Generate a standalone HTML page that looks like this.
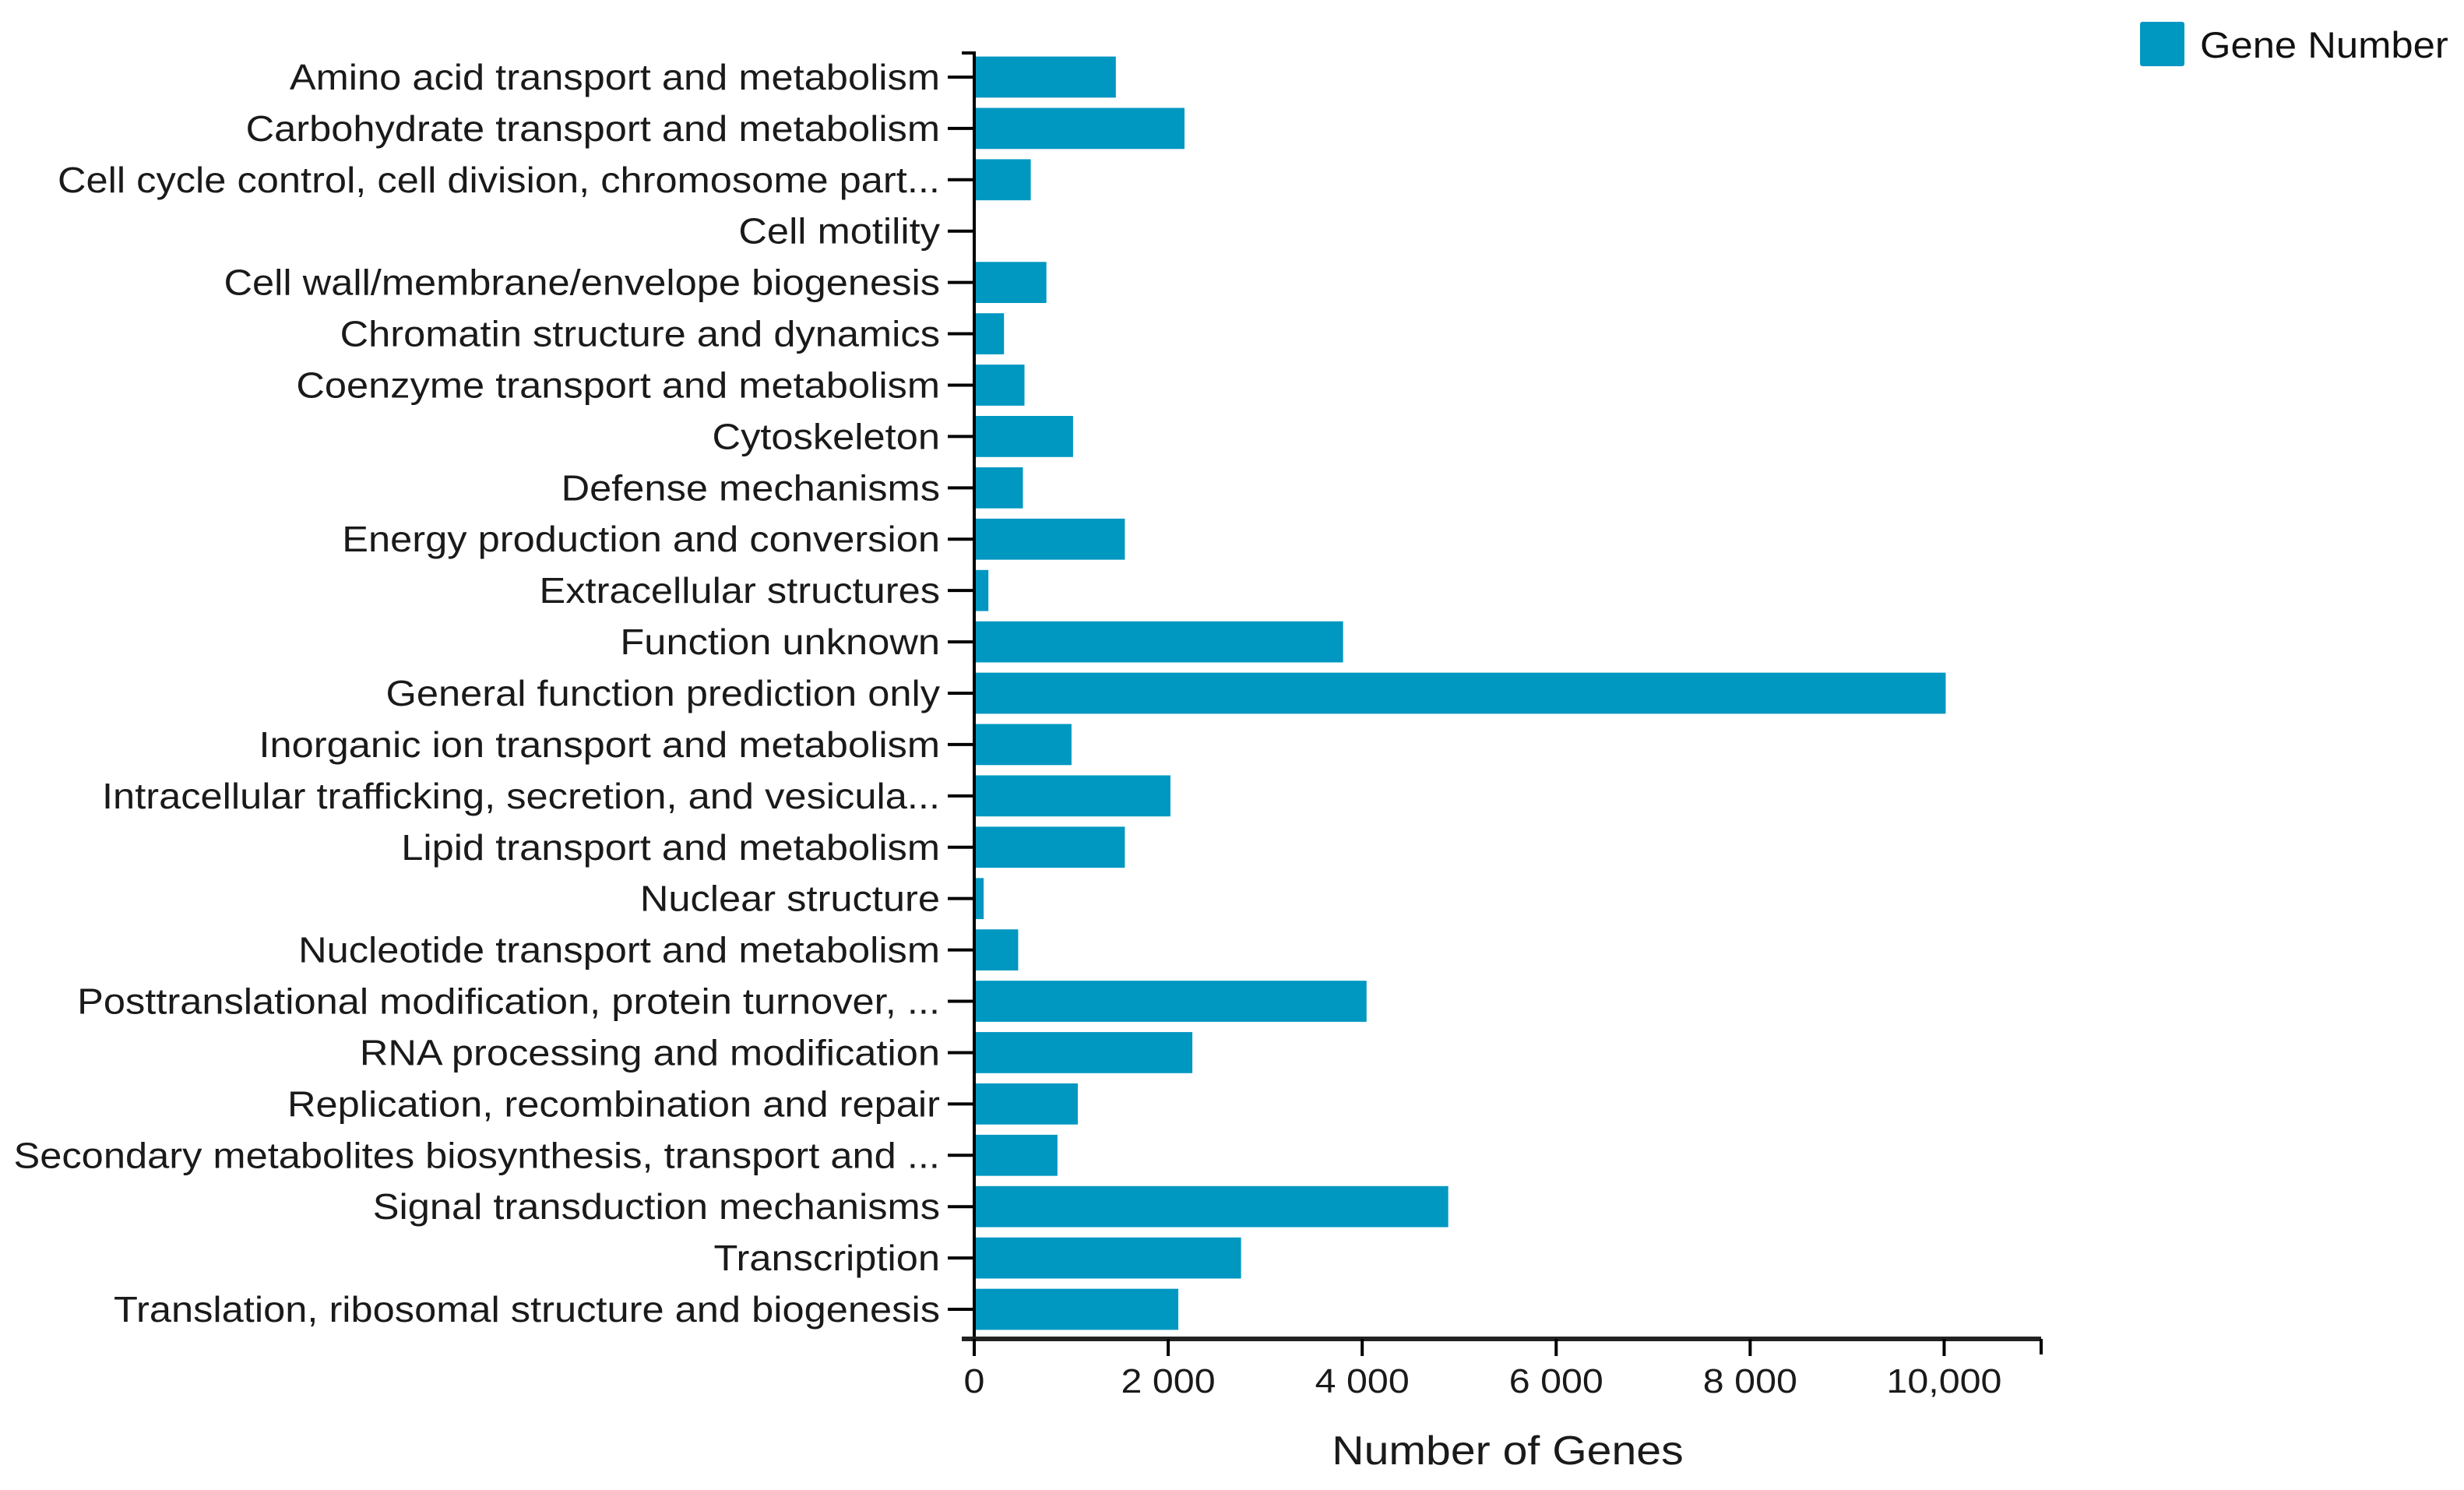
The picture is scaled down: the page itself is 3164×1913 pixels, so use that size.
<!DOCTYPE html>
<html><head><meta charset="utf-8"><style>
html,body{margin:0;padding:0;background:#fff;}
svg{display:block;font-family:"Liberation Sans",sans-serif;}
</style></head><body>
<svg id="chart" width="3164" height="1913" xmlns="http://www.w3.org/2000/svg"></svg>
<script>
const categories = ["Amino acid transport and metabolism","Carbohydrate transport and metabolism","Cell cycle control, cell division, chromosome part...","Cell motility","Cell wall/membrane/envelope biogenesis","Chromatin structure and dynamics","Coenzyme transport and metabolism","Cytoskeleton","Defense mechanisms","Energy production and conversion","Extracellular structures","Function unknown","General function prediction only","Inorganic ion transport and metabolism","Intracellular trafficking, secretion, and vesicula...","Lipid transport and metabolism","Nuclear structure","Nucleotide transport and metabolism","Posttranslational modification, protein turnover, ...","RNA processing and modification","Replication, recombination and repair","Secondary metabolites biosynthesis, transport and ...","Signal transduction mechanisms","Transcription","Translation, ribosomal structure and biogenesis"];
const geneCounts = [1460,2168,583,5,744,307,518,1019,502,1553,146,3803,10016,1003,2023,1553,97,453,4045,2249,1068,858,4887,2751,2104];
const xTicks = [0,2000,4000,6000,8000,10000];
const xTickLabels = ["0","2 000","4 000","6 000","8 000","10,000"];

const NS="http://www.w3.org/2000/svg";
const svg=document.getElementById('chart');
const X0=1251, X1=2621, DMAX=11000, YTOP=66, YBOT=1714, AXY=1719, SX=1.1;
const x=v=>X0+(v/DMAX)*(X1-X0);
const step=(YBOT-YTOP)/categories.length;
const yc=i=>YTOP+step*(i+0.5);
function mk(tag,attrs,parent){const e=document.createElementNS(NS,tag);for(const k in attrs)e.setAttribute(k,attrs[k]);(parent||svg).appendChild(e);return e;}
const COLOR="#0097c1";

categories.forEach((c,i)=>{
  const bh=step*0.8;
  const r=mk('rect',{x:X0,y:yc(i)-bh/2,width:Math.max(0,x(geneCounts[i])-X0),height:bh,fill:COLOR});
  
  
});

const ya=mk('path',{d:`M1235,${YTOP+2} H${X0} V${AXY}`,stroke:"#000","stroke-width":4,fill:"none"});


categories.forEach((c,i)=>{
  const t=mk('line',{x1:1217,x2:X0,y1:yc(i),y2:yc(i),stroke:"#000","stroke-width":4});
  
  
  const g=mk('g',{transform:`translate(1207,${yc(i)+16}) scale(${SX},1)`});
  const tx=mk('text',{x:0,y:0,"text-anchor":"end","font-size":46,fill:"#1a1a1a"},g);
  tx.textContent=c;
  
  
});

const xa=mk('line',{x1:1235,x2:X1,y1:AXY,y2:AXY,stroke:"#222","stroke-width":6});


const endTick=mk('line',{x1:X1,x2:X1,y1:AXY,y2:AXY+20,stroke:"#000","stroke-width":4});


xTicks.forEach((v,i)=>{
  const t=mk('line',{x1:x(v),x2:x(v),y1:AXY,y2:AXY+22,stroke:"#000","stroke-width":4});
  
  
  const g=mk('g',{transform:`translate(${x(v)},${1788}) scale(${SX},1)`});
  const tx=mk('text',{x:0,y:0,"text-anchor":"middle","font-size":44,fill:"#1a1a1a"},g);
  tx.textContent=xTickLabels[i];
  
  
});
const tg=mk('g',{transform:`translate(1936,1880) scale(${SX},1)`});
const title=mk('text',{x:0,y:0,"text-anchor":"middle","font-size":52,fill:"#1a1a1a"},tg);
title.textContent="Number of Genes";



const lr=mk('rect',{x:2748,y:28,width:57,height:57,fill:COLOR,rx:3});


const lg=mk('g',{transform:`translate(2825,74) scale(1.08,1)`});
const lt=mk('text',{x:0,y:0,"font-size":47,fill:"#111"},lg);
lt.textContent="Gene Number";


</script>
</body></html>
